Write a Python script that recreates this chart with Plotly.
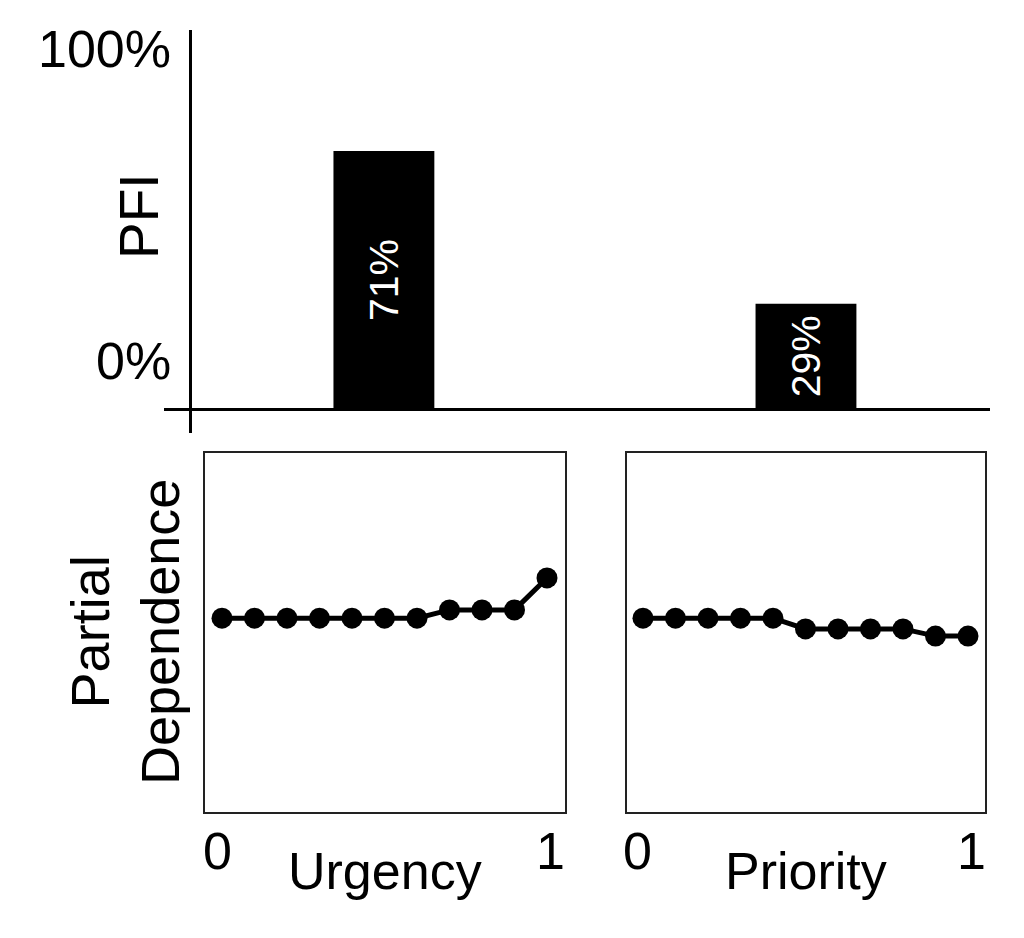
import plotly.graph_objects as go

# permutation feature importance (top panel)
features = ["Urgency", "Priority"]
pfi = [71, 29]
pfi_text = ["71%", "29%"]
pfi_tick_vals = [0, 100]
pfi_tick_labels = ["0%", "100%"]

# partial dependence curves (bottom panels)
grid = [0, 0.1, 0.2, 0.3, 0.4, 0.5, 0.6, 0.7, 0.8, 0.9, 1.0]
pd_urgency = [0.54, 0.54, 0.54, 0.54, 0.54, 0.54, 0.54, 0.563, 0.563, 0.563, 0.652]
pd_priority = [0.54, 0.54, 0.54, 0.54, 0.54, 0.51, 0.51, 0.51, 0.51, 0.49, 0.49]
pd_tick_vals = [0, 1]
pd_tick_labels = ["0", "1"]

# page body has an 8px margin, so the figure is a bit smaller than the window
W, H = 1008, 922
OFF = 8
FONT = "Arial, Liberation Sans, sans-serif"


def px(x):
    return (x - OFF) / W


def py(y):
    return 1 - (y - OFF) / H


fig = go.Figure()

fig.add_trace(go.Bar(
    x=features, y=pfi, text=pfi_text,
    marker=dict(color="black", line=dict(width=0)),
    width=0.239,
    textposition="inside", insidetextanchor="middle", textangle=-90,
    textfont=dict(color="white", size=41, family=FONT),
    xaxis="x", yaxis="y", showlegend=False,
))

line_style = dict(color="black", width=5)
marker_style = dict(color="black", size=21)
fig.add_trace(go.Scatter(x=grid, y=pd_urgency, mode="lines+markers",
                         line=line_style, marker=marker_style,
                         xaxis="x2", yaxis="y2", showlegend=False))
fig.add_trace(go.Scatter(x=grid, y=pd_priority, mode="lines+markers",
                         line=line_style, marker=marker_style,
                         xaxis="x3", yaxis="y3", showlegend=False))

fig.update_layout(
    width=W, height=H,
    margin=dict(l=0, r=0, t=0, b=0),
    plot_bgcolor="white", paper_bgcolor="white",
    font=dict(family=FONT, size=52, color="black"),
    # top: PFI bars
    xaxis=dict(domain=[px(164), px(990)], range=[-0.521, 1.436],
               anchor="free", position=py(409),
               showline=True, linecolor="black", linewidth=2.5,
               showticklabels=False, ticks="", showgrid=False, zeroline=False),
    yaxis=dict(domain=[py(433), py(30)], range=[-6.6, 104.3],
               anchor="free", position=px(190),
               showline=True, linecolor="black", linewidth=2.5,
               showticklabels=False, ticks="", showgrid=False, zeroline=False),
    # bottom left: urgency
    xaxis2=dict(domain=[px(205), px(565)], range=[-0.0523, 1.0554], anchor="y2",
                showline=True, mirror=True, linecolor="#222", linewidth=2,
                showticklabels=False, ticks="", showgrid=False, zeroline=False),
    yaxis2=dict(domain=[py(812), py(453)], range=[0, 1], anchor="x2",
                showline=True, mirror=True, linecolor="#222", linewidth=2,
                showticklabels=False, ticks="", showgrid=False, zeroline=False),
    # bottom right: priority
    xaxis3=dict(domain=[px(627), px(985)], range=[-0.0492, 1.0523], anchor="y3",
                showline=True, mirror=True, linecolor="#222", linewidth=2,
                showticklabels=False, ticks="", showgrid=False, zeroline=False),
    yaxis3=dict(domain=[py(812), py(453)], range=[0, 1], anchor="x3",
                showline=True, mirror=True, linecolor="#222", linewidth=2,
                showticklabels=False, ticks="", showgrid=False, zeroline=False),
)

# y tick labels of the PFI axis
fig.add_annotation(x=px(190), xref="paper", y=pfi_tick_vals[1], yref="y",
                   text=pfi_tick_labels[1], showarrow=False,
                   xanchor="right", yanchor="middle", xshift=-17, yshift=-3)
fig.add_annotation(x=px(190), xref="paper", y=pfi_tick_vals[0], yref="y",
                   text=pfi_tick_labels[0], showarrow=False,
                   xanchor="right", yanchor="middle", xshift=-17, yshift=48)

# x tick labels of the partial dependence panels
for xr in ["x2", "x3"]:
    fig.add_annotation(x=pd_tick_vals[0], xref=xr, y=py(851), yref="paper",
                       text=pd_tick_labels[0], showarrow=False,
                       xanchor="center", yanchor="middle", xshift=-5)
    fig.add_annotation(x=pd_tick_vals[1], xref=xr, y=py(851), yref="paper",
                       text=pd_tick_labels[1], showarrow=False,
                       xanchor="center", yanchor="middle", xshift=3)

# axis titles
fig.add_annotation(x=px(139), y=py(216), xref="paper", yref="paper",
                   text="PFI", textangle=-90, showarrow=False,
                   xanchor="center", yanchor="middle", font=dict(size=55))
fig.add_annotation(x=px(125), y=py(632), xref="paper", yref="paper",
                   text="Partial<br>Dependence", textangle=-90, showarrow=False,
                   xanchor="center", yanchor="middle", font=dict(size=54))
fig.add_annotation(x=0.5, y=py(871), xref="x2 domain", yref="paper",
                   text=features[0], showarrow=False,
                   xanchor="center", yanchor="middle")
fig.add_annotation(x=0.5, y=py(871), xref="x3 domain", yref="paper",
                   text=features[1], showarrow=False,
                   xanchor="center", yanchor="middle")

fig.write_html("out.html")
